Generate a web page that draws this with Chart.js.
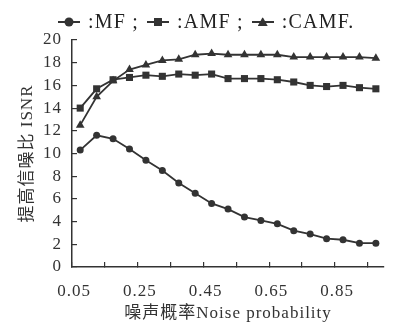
<!DOCTYPE html>
<html>
<head>
<meta charset="utf-8">
<script src="https://cdn.jsdelivr.net/npm/chart.js@4/dist/chart.umd.min.js"></script>
<style>
  html, body { margin: 0; padding: 0; background: #fff; }
  #wrap { position: relative; width: 395px; height: 334px; }
  #legend {
    position: absolute; left: 58px; top: 10px; display: flex; align-items: center;
    font: 20px "Liberation Serif", "Noto Sans CJK SC", serif; letter-spacing: 1.2px;
    color: #222; white-space: nowrap;
  }
  .key { position: relative; display: inline-block; width: 22px; height: 2px; background: #333; margin-right: 8px; }
  .key i { position: absolute; left: 50%; top: 50%; transform: translate(-50%, -50%); background: #333; }
  .key .circle { width: 9px; height: 9px; border-radius: 50%; }
  .key .rect { width: 8px; height: 8px; }
  .key .triangle { width: 10px; height: 9px; clip-path: polygon(50% 0, 100% 100%, 0 100%); }
  .item { margin-right: 8px; }
</style>
</head>
<body>
<div id="wrap">
  <canvas id="chart" width="395" height="334"></canvas>
  <div id="legend"></div>
</div>
<script>
// Data
const noiseProb = ["0.05", "0.10", "0.15", "0.20", "0.25", "0.30", "0.35", "0.40", "0.45", "0.50",
                   "0.55", "0.60", "0.65", "0.70", "0.75", "0.80", "0.85", "0.90", "0.95"];
const seriesNames = ["MF", "AMF", "CAMF"];
const mf   = [10.3, 11.6, 11.3, 10.4, 9.4, 8.5, 7.4, 6.5, 5.6, 5.1, 4.4, 4.1, 3.8, 3.2, 2.9, 2.5, 2.4, 2.1, 2.1];
const amf  = [14.0, 15.7, 16.5, 16.7, 16.9, 16.8, 17.0, 16.9, 17.0, 16.6, 16.6, 16.6, 16.5, 16.3, 16.0, 15.9, 16.0, 15.8, 15.7];
const camf = [12.5, 15.0, 16.4, 17.4, 17.8, 18.2, 18.3, 18.7, 18.8, 18.7, 18.7, 18.7, 18.7, 18.5, 18.5, 18.5, 18.5, 18.5, 18.4];
const xTitle = "噪声概率Noise probability";
const yTitle = "提高信噪比 ISNR";

const ink = "#333";
const serif = '"Liberation Serif", "Noto Sans CJK SC", serif';
const markers = ["circle", "rect", "triangle"];
const radii = [3.5, 5, 5];

// HTML legend: —●— :MF ; —■— :AMF ; —▲— :CAMF.
const legend = document.getElementById("legend");
seriesNames.forEach((name, i) => {
  const key = document.createElement("span");
  key.className = "key";
  key.innerHTML = `<i class="${markers[i]}"></i>`;
  const txt = document.createElement("span");
  txt.className = "item";
  txt.textContent = i < seriesNames.length - 1 ? `:${name} ;` : `:${name}.`;
  legend.appendChild(key);
  legend.appendChild(txt);
});

// canvas letter spacing to mimic the wide scanned type
const spacing = {
  id: "spacing",
  beforeDraw(chart) { chart.ctx.letterSpacing = "1px"; }
};

const ds = [mf, amf, camf].map((data, i) => ({
  label: seriesNames[i],
  data,
  borderColor: ink,
  backgroundColor: ink,
  borderWidth: 1.8,
  pointStyle: markers[i],
  pointRadius: radii[i],
  pointBorderWidth: 0,
  tension: 0,
}));

new Chart(document.getElementById("chart").getContext("2d"), {
  type: "line",
  data: { labels: noiseProb, datasets: ds },
  plugins: [spacing],
  options: {
    responsive: false,
    animation: false,
    layout: { padding: { top: 40, right: 3, left: 0, bottom: 0 } },
    plugins: { legend: { display: false }, tooltip: { enabled: false } },
    scales: {
      x: {
        offset: true,
        grid: {
          offset: true,
          drawOnChartArea: false,
          tickLength: -5,
          lineWidth: 1.2,
          color: (c) => (c.index % 2 === 0 ? ink : "rgba(0,0,0,0)"),
        },
        border: { color: ink, width: 1.5 },
        ticks: {
          autoSkip: false, maxRotation: 0, padding: 19, labelOffset: -6,
          color: ink, font: { family: serif, size: 17 },
          callback: (v, i) => (i % 4 === 0 ? noiseProb[i] : ""),
        },
        title: {
          display: true, text: xTitle, color: ink,
          font: { family: serif, size: 17 }, padding: { top: 0, bottom: 10 },
        },
        afterFit: (s) => { s.height = 67; },
      },
      y: {
        min: 0, max: 20,
        grid: { drawOnChartArea: false, tickLength: -5, lineWidth: 1.2, color: ink },
        border: { color: ink, width: 1.5 },
        ticks: {
          stepSize: 2, autoSkip: false, padding: 15, color: ink,
          font: { family: serif, size: 17 },
        },
        title: {
          display: true, text: yTitle, color: ink,
          font: { family: serif, size: 17 }, padding: { top: 17, bottom: 0 },
        },
        afterFit: (s) => { s.width = 72; },
      },
    },
  },
});
</script>
</body>
</html>
